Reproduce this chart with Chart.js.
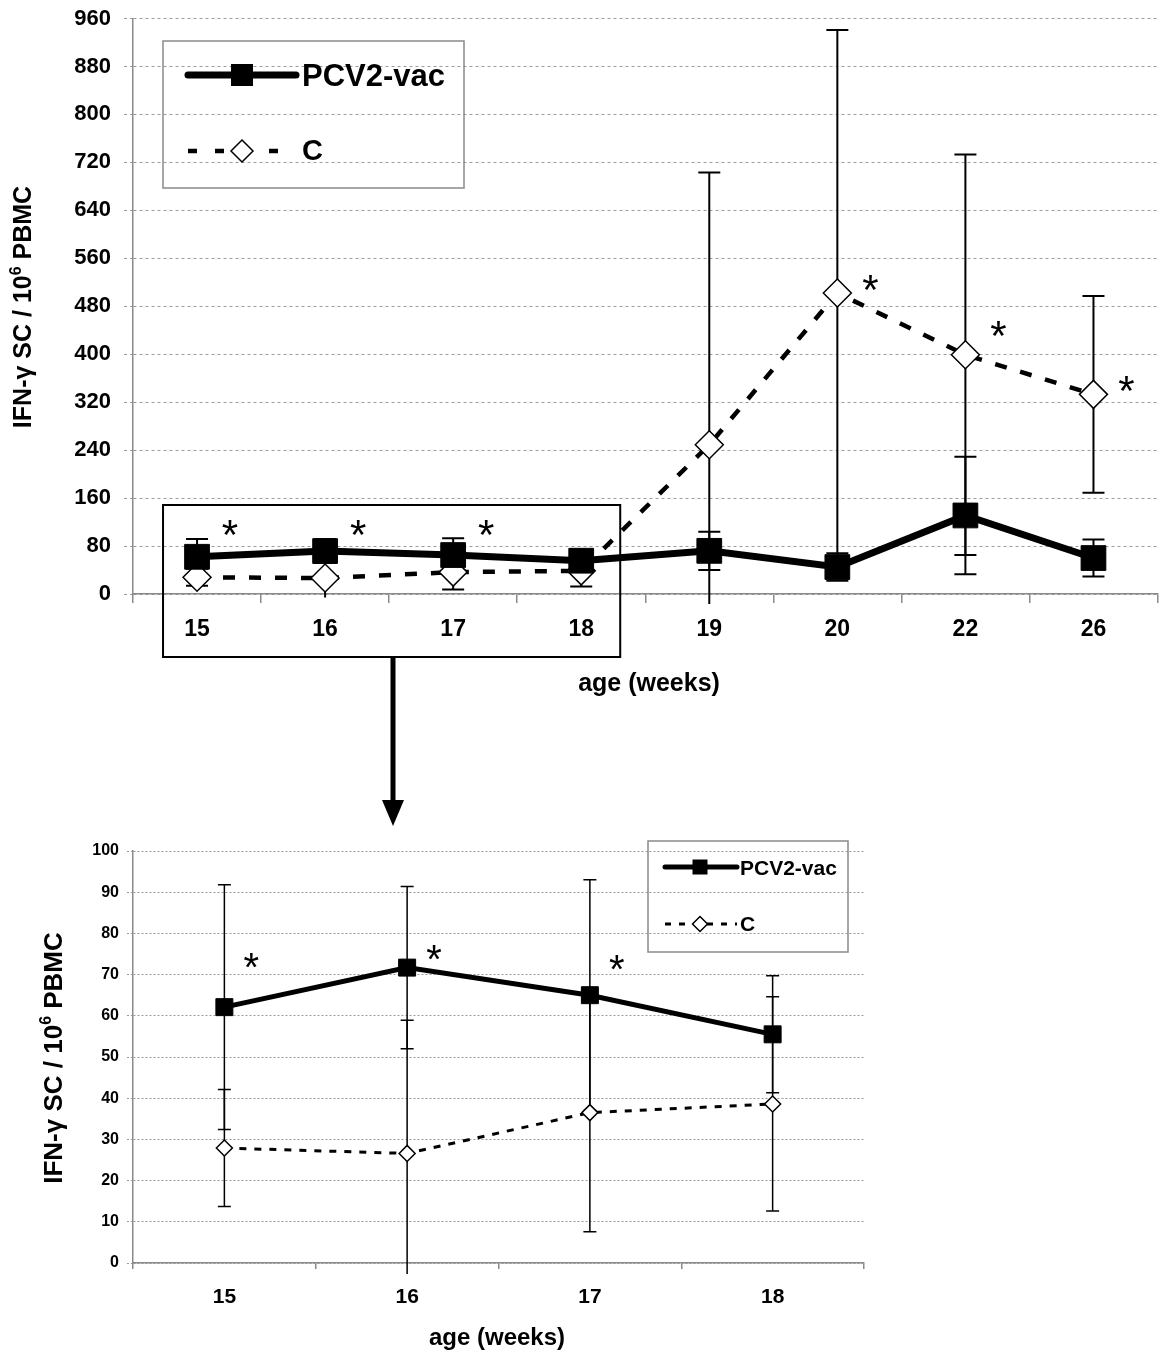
<!DOCTYPE html>
<html>
<head>
<meta charset="utf-8">
<script src="https://cdn.jsdelivr.net/npm/chart.js@4.4.1/dist/chart.umd.min.js"></script>
<style>
  html, body { margin: 0; padding: 0; background: #fff; overflow: hidden; }
  #page { position: relative; width: 1170px; height: 1355px; overflow: hidden; }
  .box { position: absolute; left: 0; }
</style>
</head>
<body>
<div id="page">
  <div class="box" style="top:0;width:1176px;height:830px"><canvas id="fullChart" width="1176" height="830"></canvas></div>
  <div class="box" style="top:830px;width:1170px;height:525px"><canvas id="zoomChart" width="1170" height="525"></canvas></div>
</div>
<script>
// age of the pigs (weeks)
const weeks = ['15', '16', '17', '18', '19', '20', '22', '26'];
// PCV2-vaccinated group: mean and SD of IFN-g secreting cells / 10^6 PBMC
const pcvMean = [62.1, 71.7, 65.0, 55.5, 72, 45, 131, 60];
const pcvSd   = [29.7, 19.7, 28.0, 14.2, 32, 23, 98, 31];
// control group
const ctrlMean = [27.9, 26.6, 36.5, 38.6, 249, 502, 399, 333];
const ctrlSd   = [14.2, 32.3, 28.9, 26.0, 454, 439, 334, 164];
// weeks shown in the enlarged chart
const zoomWeeks = weeks.slice(0, 4);
// significance marks (week, height in axis units)
const starTopWeeks = ['15', '16', '17', '20', '22', '26'];
const starTopLevel = [115, 115, 115, 525, 448, 356];
const starZoomWeeks = ['15', '16', '17'];
const starZoomLevel = [74, 76, 73.5];

const FONT = '"Liberation Sans", Arial, Helvetica, sans-serif';

function font(size, weight) {
  return (weight || 'bold') + ' ' + size + 'px ' + FONT;
}

function drawSquare(ctx, x, y, side) {
  ctx.fillStyle = '#000';
  ctx.fillRect(x - side / 2, y - side / 2, side, side);
}

function drawDiamond(ctx, x, y, r, lw) {
  ctx.beginPath();
  ctx.moveTo(x, y - r);
  ctx.lineTo(x + r, y);
  ctx.lineTo(x, y + r);
  ctx.lineTo(x - r, y);
  ctx.closePath();
  ctx.fillStyle = '#fff';
  ctx.fill();
  ctx.lineWidth = lw;
  ctx.strokeStyle = '#000';
  ctx.setLineDash([]);
  ctx.stroke();
}

// rotated y title with a superscript "6"
function drawYTitle(ctx, xBase, yMid, size) {
  const parts = [
    ['IFN-\u03b3 SC / 10', font(size), 0],
    ['6', font(Math.round(size * 0.62)), -size * 0.42],
    [' PBMC', font(size), 0]
  ];
  let total = 0;
  parts.forEach(p => { ctx.font = p[1]; total += ctx.measureText(p[0]).width; });
  ctx.save();
  ctx.translate(xBase, yMid);
  ctx.rotate(-Math.PI / 2);
  ctx.fillStyle = '#000';
  ctx.textBaseline = 'alphabetic';
  ctx.textAlign = 'left';
  let x = -total / 2;
  parts.forEach(p => {
    ctx.font = p[1];
    ctx.fillText(p[0], x, p[2]);
    x += ctx.measureText(p[0]).width;
  });
  ctx.restore();
}

const extras = {
  id: 'extras',
  beforeDatasetsDraw(chart, args, o) {
    const ctx = chart.ctx;
    const ys = chart.scales.y;
    const area = chart.chartArea;
    ctx.save();
    ctx.strokeStyle = '#000';
    ctx.lineWidth = o.barWidth;
    chart.data.datasets.forEach((ds, di) => {
      const meta = chart.getDatasetMeta(di);
      meta.data.forEach((pt, i) => {
        const x = pt.x;
        const hi = ys.getPixelForValue(ds.data[i] + ds.sd[i]);
        const loRaw = ys.getPixelForValue(ds.data[i] - ds.sd[i]);
        const lo = Math.min(loRaw, area.bottom + o.overhang);
        ctx.beginPath();
        ctx.moveTo(x, hi);
        ctx.lineTo(x, lo);
        ctx.moveTo(x - o.cap / 2, hi);
        ctx.lineTo(x + o.cap / 2, hi);
        if (loRaw <= area.bottom) {
          ctx.moveTo(x - o.cap / 2, lo);
          ctx.lineTo(x + o.cap / 2, lo);
        }
        ctx.stroke();
      });
    });
    ctx.restore();
  },
  afterDraw(chart, args, o) {
    const ctx = chart.ctx;
    const xs = chart.scales.x, ys = chart.scales.y;
    ctx.save();

    // asterisks
    ctx.fillStyle = '#000';
    ctx.font = font(o.starSize, 'normal');
    ctx.textAlign = 'center';
    ctx.textBaseline = 'alphabetic';
    o.starWeeks.forEach((w, i) => {
      const x = xs.getPixelForValue(chart.data.labels.indexOf(w)) + o.starDx;
      const y = ys.getPixelForValue(o.starLevel[i]);
      ctx.fillText('*', x, y + o.starSize * 0.58);
    });

    // axis titles
    drawYTitle(ctx, o.yTitleX, o.yTitleY, o.yTitleSize);
    ctx.font = font(o.xTitleSize);
    ctx.textAlign = 'center';
    ctx.textBaseline = 'middle';
    ctx.fillText('age (weeks)', o.xTitleX, o.xTitleY);

    // legend
    const L = o.legend;
    ctx.lineWidth = 1.5;
    ctx.strokeStyle = '#8a8a8a';
    ctx.strokeRect(L.x, L.y, L.w, L.h);
    ctx.strokeStyle = '#000';
    ctx.lineCap = 'round';
    ctx.lineWidth = L.solidW;
    ctx.beginPath();
    ctx.moveTo(L.lineX0, L.row1);
    ctx.lineTo(L.lineX1, L.row1);
    ctx.stroke();
    drawSquare(ctx, L.markX, L.row1, L.square);
    ctx.lineCap = 'butt';
    ctx.lineWidth = L.dashW;
    ctx.setLineDash(L.dash);
    ctx.beginPath();
    ctx.moveTo(L.lineX0, L.row2);
    ctx.lineTo(L.lineX1, L.row2);
    ctx.stroke();
    ctx.setLineDash([]);
    drawDiamond(ctx, L.markX, L.row2, L.diamond, 1.5);
    ctx.fillStyle = '#000';
    ctx.textAlign = 'left';
    ctx.textBaseline = 'middle';
    ctx.font = font(L.size1);
    ctx.fillText('PCV2-vac', L.textX, L.row1 + 2);
    ctx.font = font(L.size2);
    ctx.fillText('C', L.textX, L.row2 + 1);

    // frame around weeks 15-18 and the arrow to the enlarged chart
    if (o.frame) {
      const f = o.frame;
      const left = xs.getPixelForValue(0) - f.padL;
      const right = xs.getPixelForValue(3) + f.padR;
      ctx.lineWidth = 2;
      ctx.strokeStyle = '#000';
      ctx.strokeRect(left, f.top, right - left, f.bottom - f.top);
      ctx.lineWidth = 5;
      ctx.beginPath();
      ctx.moveTo(f.arrowX, f.bottom);
      ctx.lineTo(f.arrowX, f.arrowEnd - 24);
      ctx.stroke();
      ctx.beginPath();
      ctx.moveTo(f.arrowX - 11, f.arrowEnd - 26);
      ctx.lineTo(f.arrowX + 11, f.arrowEnd - 26);
      ctx.lineTo(f.arrowX, f.arrowEnd);
      ctx.closePath();
      ctx.fill();
    }
    ctx.restore();
  }
};

function makeChart(id, labels, n, s) {
  return new Chart(document.getElementById(id), {
    type: 'line',
    data: {
      labels: labels,
      datasets: [
        {
          label: 'PCV2-vac',
          data: pcvMean.slice(0, n),
          sd: pcvSd.slice(0, n),
          borderColor: '#000',
          borderWidth: s.solidW,
          pointStyle: 'rect',
          pointRadius: s.rectR,
          pointBackgroundColor: '#000',
          pointBorderColor: '#000',
          pointBorderWidth: 1,
          tension: 0
        },
        {
          label: 'C',
          data: ctrlMean.slice(0, n),
          sd: ctrlSd.slice(0, n),
          borderColor: '#000',
          borderWidth: s.dashW,
          borderDash: s.dash,
          pointStyle: 'rectRot',
          pointRadius: s.diamondR,
          pointBackgroundColor: '#fff',
          pointBorderColor: '#000',
          pointBorderWidth: 1.5,
          tension: 0
        }
      ]
    },
    options: {
      responsive: false,
      animation: false,
      events: [],
      layout: { padding: { top: s.padTop, right: s.padRight, left: 0, bottom: 0 } },
      plugins: { legend: { display: false }, tooltip: { enabled: false }, extras: s.extras },
      scales: {
        x: {
          offset: true,
          afterFit: sc => {
            sc.height = s.xHeight;
            sc.paddingLeft = 0;
            sc.paddingRight = 0;
          },
          grid: { offset: true, drawOnChartArea: false, drawTicks: true, tickLength: s.tick, color: '#8a8a8a', lineWidth: 1.5 },
          border: { display: true, color: '#8a8a8a', width: 1.5 },
          ticks: { color: '#000', font: { family: FONT, size: s.xTickSize, weight: 'bold' }, padding: s.xTickPad, maxRotation: 0 }
        },
        y: {
          min: 0,
          max: s.yMax,
          afterFit: sc => {
            sc.width = 133;
            sc.paddingTop = 0;
            sc.paddingBottom = 0;
          },
          grid: { color: '#9a9a9a', lineWidth: 1, tickLength: s.tick, tickBorderDash: s.gridDash, tickColor: '#9a9a9a' },
          border: { display: true, color: '#8a8a8a', width: 1.5, dash: s.gridDash },
          ticks: { stepSize: s.yStep, color: '#000', font: { family: FONT, size: s.yTickSize, weight: 'bold' }, padding: s.yTickPad }
        }
      }
    },
    plugins: [extras]
  });
}

makeChart('fullChart', weeks, weeks.length, {
  solidW: 7, rectR: 17.5, dashW: 4.5, dash: [12, 14], diamondR: 14,
  padTop: 18, padRight: 13, xHeight: 236, tick: 9,
  xTickSize: 23, xTickPad: 13, yTickSize: 22, yTickPad: 13,
  yMax: 960, yStep: 80, gridDash: [3, 3],
  extras: {
    barWidth: 2, cap: 22, overhang: 10,
    starWeeks: starTopWeeks, starLevel: starTopLevel, starSize: 42, starDx: 33,
    yTitleX: 31, yTitleY: 307, yTitleSize: 25,
    xTitleX: 649, xTitleY: 684, xTitleSize: 25,
    legend: { x: 163, y: 41, w: 301, h: 147, row1: 75, row2: 151, lineX0: 188, lineX1: 296,
      markX: 242, square: 22, diamond: 11, solidW: 7, dashW: 4.5, dash: [9, 18],
      textX: 302, size1: 31, size2: 29 },
    frame: { padL: 34, padR: 39, top: 505, bottom: 657, arrowX: 393, arrowEnd: 826 }
  }
});

makeChart('zoomChart', zoomWeeks, zoomWeeks.length, {
  solidW: 5, rectR: 12, dashW: 3, dash: [7, 8], diamondR: 8,
  padTop: 21, padRight: 306, xHeight: 92, tick: 6,
  xTickSize: 21, xTickPad: 16, yTickSize: 16, yTickPad: 8,
  yMax: 100, yStep: 10, gridDash: [2, 2],
  extras: {
    barWidth: 1.5, cap: 13, overhang: 11,
    starWeeks: starZoomWeeks, starLevel: starZoomLevel, starSize: 40, starDx: 27,
    yTitleX: 62, yTitleY: 228, yTitleSize: 26,
    xTitleX: 497, xTitleY: 508, xTitleSize: 24,
    legend: { x: 648, y: 11, w: 200, h: 111, row1: 37, row2: 94, lineX0: 665, lineX1: 737,
      markX: 700, square: 15, diamond: 7.5, solidW: 5, dashW: 3, dash: [6, 8],
      textX: 740, size1: 21, size2: 21 },
    frame: null
  }
});
</script>
</body>
</html>
